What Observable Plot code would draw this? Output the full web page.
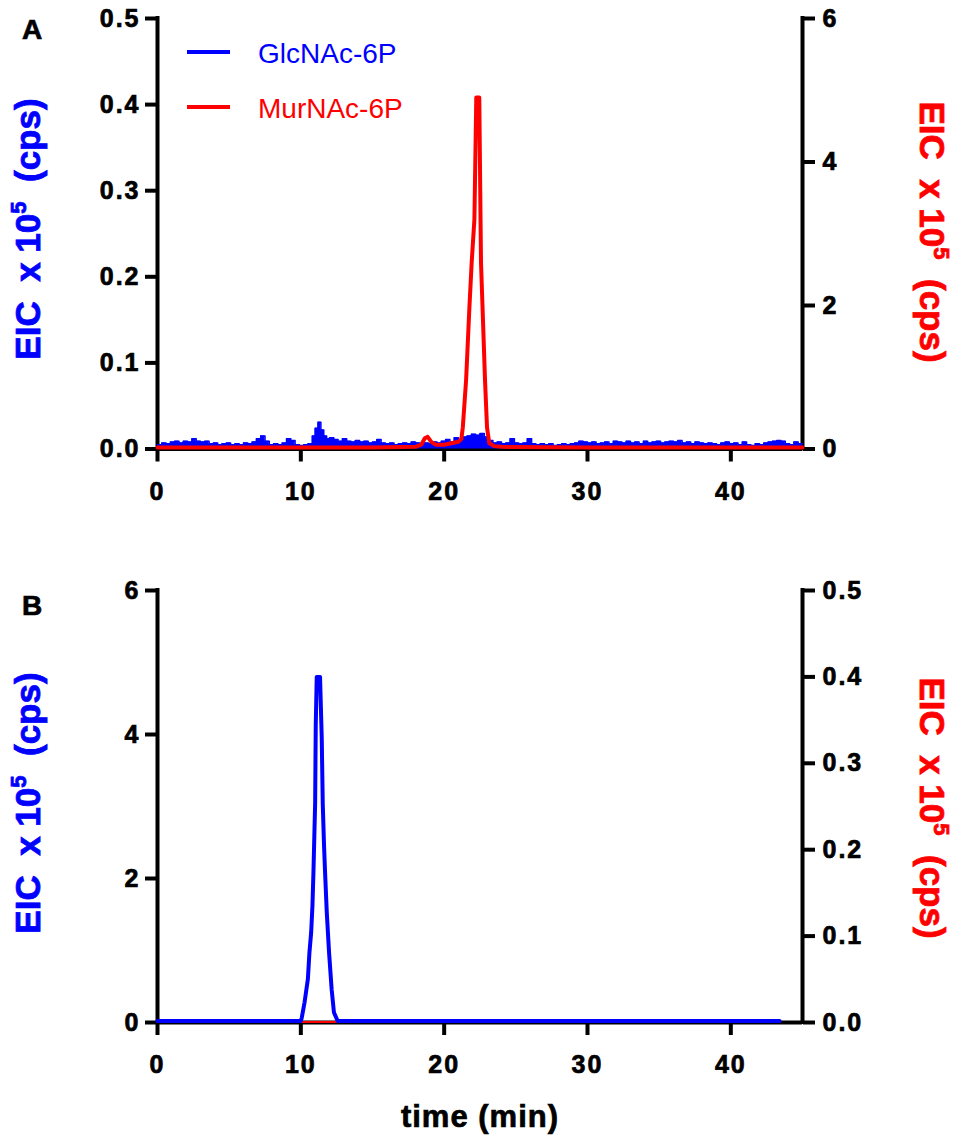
<!DOCTYPE html>
<html><head><meta charset="utf-8">
<script src="https://cdn.jsdelivr.net/npm/d3@7"></script>
<script src="https://cdn.jsdelivr.net/npm/@observablehq/plot@0.6"></script>
<style>body{margin:0;background:#fff;} svg{display:block;}</style>
</head><body><div id="chart"></div><script>
// ---------- data ----------
const xTicks = [0, 10, 20, 30, 40];
const ticksSmall = [0, 0.1, 0.2, 0.3, 0.4, 0.5];
const ticksLarge = [0, 2, 4, 6];
const seriesNames = ["GlcNAc-6P", "MurNAc-6P"];
const seriesColors = ["#0000ff", "#ff0000"];
const panelLetters = ["A", "B"];
const xLabel = "time (min)";

// Panel A, GlcNAc-6P (left axis, 0-0.5) [time, value]
const glcA = [
[0.0,0.005],[0.3,0.007],[0.6,0.006],[0.9,0.008],[1.2,0.009],[1.5,0.007],[1.8,0.009],[2.1,0.008],[2.4,0.012],[2.7,0.009],
[3.0,0.008],[3.3,0.009],[3.6,0.006],[3.9,0.007],[4.2,0.005],[4.5,0.006],[4.8,0.007],[5.1,0.005],[5.4,0.006],[5.7,0.005],
[6.0,0.007],[6.3,0.006],[6.6,0.008],[6.9,0.012],[7.2,0.015],[7.5,0.009],[7.8,0.005],[8.1,0.006],[8.4,0.005],[8.7,0.007],
[9.0,0.012],[9.3,0.010],[9.6,0.005],[9.9,0.004],[10.2,0.005],[10.5,0.006],[10.8,0.015],[11.0,0.024],[11.2,0.031],[11.4,0.022],
[11.6,0.015],[11.8,0.012],[12.0,0.013],[12.3,0.011],[12.6,0.009],[12.9,0.012],[13.2,0.009],[13.5,0.008],[13.8,0.010],[14.1,0.008],
[14.4,0.009],[14.7,0.007],[15.0,0.008],[15.3,0.011],[15.6,0.007],[15.9,0.006],[16.2,0.007],[16.5,0.005],[16.8,0.006],[17.1,0.007],
[17.4,0.006],[17.7,0.008],[18.0,0.007],[18.3,0.006],[18.6,0.007],[18.9,0.006],[19.2,0.008],[19.5,0.007],[19.8,0.009],[20.1,0.011],
[20.4,0.008],[20.7,0.013],[21.0,0.011],[21.3,0.014],[21.6,0.015],[21.9,0.017],[22.2,0.016],[22.5,0.018],[22.8,0.014],[23.1,0.010],
[23.4,0.007],[23.7,0.008],[24.0,0.006],[24.3,0.007],[24.6,0.012],[24.9,0.007],[25.2,0.006],[25.5,0.007],[25.8,0.012],[26.1,0.006],
[26.4,0.005],[26.7,0.006],[27.0,0.005],[27.3,0.006],[27.6,0.004],[27.9,0.005],[28.2,0.006],[28.5,0.005],[28.8,0.006],[29.1,0.007],
[29.4,0.009],[29.7,0.008],[30.0,0.007],[30.3,0.008],[30.6,0.006],[30.9,0.007],[31.2,0.008],[31.5,0.006],[31.8,0.009],[32.1,0.008],
[32.4,0.007],[32.7,0.009],[33.0,0.007],[33.3,0.008],[33.6,0.006],[33.9,0.009],[34.2,0.007],[34.5,0.008],[34.8,0.009],[35.1,0.007],
[35.4,0.008],[35.7,0.009],[36.0,0.008],[36.3,0.010],[36.6,0.007],[36.9,0.008],[37.2,0.006],[37.5,0.008],[37.8,0.007],[38.1,0.006],
[38.4,0.007],[38.7,0.006],[39.0,0.005],[39.3,0.007],[39.6,0.008],[39.9,0.006],[40.2,0.007],[40.5,0.005],[40.8,0.008],[41.1,0.005],
[41.4,0.004],[41.7,0.006],[42.0,0.005],[42.3,0.007],[42.6,0.008],[42.9,0.009],[43.2,0.010],[43.5,0.009],[43.8,0.006],[44.1,0.005],
[44.4,0.008],[44.7,0.006],[45.0,0.006]
];
// Panel A, MurNAc-6P (right axis, 0-6)
const murA = [
[0,0.02],[5,0.02],[10,0.02],[15,0.02],[18.0,0.03],[18.4,0.06],[18.65,0.15],[18.85,0.17],[19.1,0.10],[19.4,0.06],
[20.0,0.06],[20.5,0.08],[21.0,0.10],[21.2,0.14],[21.30,0.30],[21.53,0.96],[21.76,1.97],[21.92,2.6],[22.11,3.2],[22.24,4.9],
[22.45,4.9],[22.57,2.6],[22.69,1.9],[22.85,0.96],[22.99,0.3],[23.15,0.08],[23.5,0.04],[24,0.03],[30,0.02],[45,0.02]
];
// Panel B, GlcNAc-6P (left axis, 0-6)
const glcB = [
[0,0.02],[10.0,0.02],[10.07,0.07],[10.26,0.28],[10.49,0.6],[10.60,0.97],[10.72,1.25],[10.81,1.62],[10.88,2.09],[11.00,3.06],
[11.04,4.12],[11.11,4.8],[11.34,4.8],[11.46,3.94],[11.53,3.03],[11.62,2.45],[11.69,2.09],[11.81,1.53],[11.97,0.97],[12.15,0.46],
[12.31,0.14],[12.57,0.02],[43.4,0.02]
];
// Panel B, MurNAc-6P (right axis, 0-0.5)
const murB = [[0,0.0005],[20,0.0005],[43.4,0.0005]];

// ---------- drawing ----------
const FONT = "'Liberation Sans', Arial, Helvetica, sans-serif";
const fmt1 = d => d.toFixed(1);
const fmt0 = d => d.toFixed(0);

function panel(o) {
  const L = o.leftMax, R = o.rightMax, k = L / R;
  const toL = v => v * k;
  const marks = [
    Plot.ruleY([0], {x1: 0, x2: 45, stroke: "#000", strokeWidth: 4}),
    Plot.ruleX([0], {y1: 0, y2: L, stroke: "#000", strokeWidth: 4, strokeLinecap: "square"}),
    Plot.ruleX([45], {y1: 0, y2: L, stroke: "#000", strokeWidth: 4, strokeLinecap: "square"}),
    Plot.axisX(xTicks, {tickSize: 13, tickPadding: 20, strokeWidth: 4, tickFormat: d => String(d), label: null}),
    Plot.axisY(o.leftTicks, {anchor: "left", tickSize: 12, tickPadding: 5, strokeWidth: 4, tickFormat: o.leftFmt, label: null}),
    Plot.axisY(o.rightTicks.map(toL), {anchor: "right", tickSize: 12, tickPadding: 8, strokeWidth: 4, tickFormat: d => o.rightFmt(d / k), label: null}),
    ...o.overMarks(toL)
  ];
  const svg = Plot.plot({
    width: 960, height: o.height,
    marginTop: o.marginTop, marginBottom: o.marginBottom, marginLeft: 157, marginRight: 158,
    x: {domain: [0, 45]}, y: {domain: [0, L]},
    style: {fontFamily: FONT, fontSize: "25px", fontWeight: "bold", letterSpacing: "2px", background: "#fff", overflow: "visible"},
    marks
  });
  d3.select(svg).selectAll("text").style("stroke", "#000").style("stroke-width", "0.7px");
  return svg;
}

function yLabel(svg, x, y, rot, color) {
  const t = d3.select(svg).append("text")
    .attr("transform", `translate(${x},${y}) rotate(${rot})`)
    .attr("text-anchor", "middle")
    .attr("fill", color)
    .style("stroke", color).style("stroke-width", "0.8px")
    .style("font-family", FONT).style("font-size", "35px").style("font-weight", "bold")
    .style("letter-spacing", "0px").style("white-space", "pre");
  t.append("tspan").text("EIC  x 10");
  t.append("tspan").attr("dy", -14).style("font-size", "22px").text("5");
  t.append("tspan").attr("dy", 14).text("  (cps)");
}
function letter(svg, x, y, s) {
  d3.select(svg).append("text").attr("x", x).attr("y", y).attr("text-anchor", "start").text(s)
    .style("font-family", FONT).style("font-size", "28px").style("font-weight", "bold")
    .style("letter-spacing", "0px").style("stroke", "#000").style("stroke-width", "0.7px").attr("fill", "#000");
}

const chart = document.getElementById("chart");

// Panel A
const svgA = panel({
  height: 540, marginTop: 18, marginBottom: 91.5,
  leftMax: 0.5, rightMax: 6, leftTicks: ticksSmall, rightTicks: ticksLarge, leftFmt: fmt1, rightFmt: fmt0,
  overMarks: toL => [
    Plot.areaY(glcA, {x: d => d[0], y: d => d[1], curve: "step-after", fill: seriesColors[0]}),
    Plot.lineY(glcA, {x: d => d[0], y: d => d[1], curve: "step-after", stroke: seriesColors[0], strokeWidth: 1.5}),
    Plot.lineY(murA, {x: d => d[0], y: d => toL(d[1]), stroke: seriesColors[1], strokeWidth: 4, strokeLinejoin: "round"})
  ]
});
chart.appendChild(svgA);
letter(svgA, 22, 39, panelLetters[0]);
yLabel(svgA, 40, 229, -90, seriesColors[0]);
yLabel(svgA, 920, 232, 90, seriesColors[1]);
// legend
const lg = d3.select(svgA).append("g");
[52, 107].forEach((yy, i) => {
  lg.append("line").attr("x1", 187).attr("x2", 230).attr("y1", yy).attr("y2", yy)
    .attr("stroke", seriesColors[i]).attr("stroke-width", 4);
  lg.append("text").attr("x", 258).attr("y", yy + 11).attr("text-anchor", "start").text(seriesNames[i]).attr("fill", seriesColors[i])
    .style("font-family", FONT).style("font-size", "28px").style("font-weight", "normal").style("letter-spacing", "0px");
});

// Panel B
const svgB = panel({
  height: 598, marginTop: 50, marginBottom: 116,
  leftMax: 6, rightMax: 0.5, leftTicks: ticksLarge, rightTicks: ticksSmall, leftFmt: fmt0, rightFmt: fmt1,
  overMarks: toL => [
    Plot.lineY(murB, {x: d => d[0], y: d => toL(d[1]), stroke: seriesColors[1], strokeWidth: 2}),
    Plot.lineY(glcB, {x: d => d[0], y: d => d[1], stroke: seriesColors[0], strokeWidth: 4, strokeLinejoin: "round"})
  ]
});
chart.appendChild(svgB);
letter(svgB, 22, 75, panelLetters[1]);
yLabel(svgB, 40, 263, -90, seriesColors[0]);
yLabel(svgB, 920, 268, 90, seriesColors[1]);
d3.select(svgB).append("text").attr("x", 480).attr("y", 587).attr("text-anchor", "middle").text(xLabel)
  .style("font-family", FONT).style("font-size", "31px").style("font-weight", "bold").style("letter-spacing", "1px")
  .style("stroke", "#000").style("stroke-width", "0.7px").attr("fill", "#000");
</script></body></html>
